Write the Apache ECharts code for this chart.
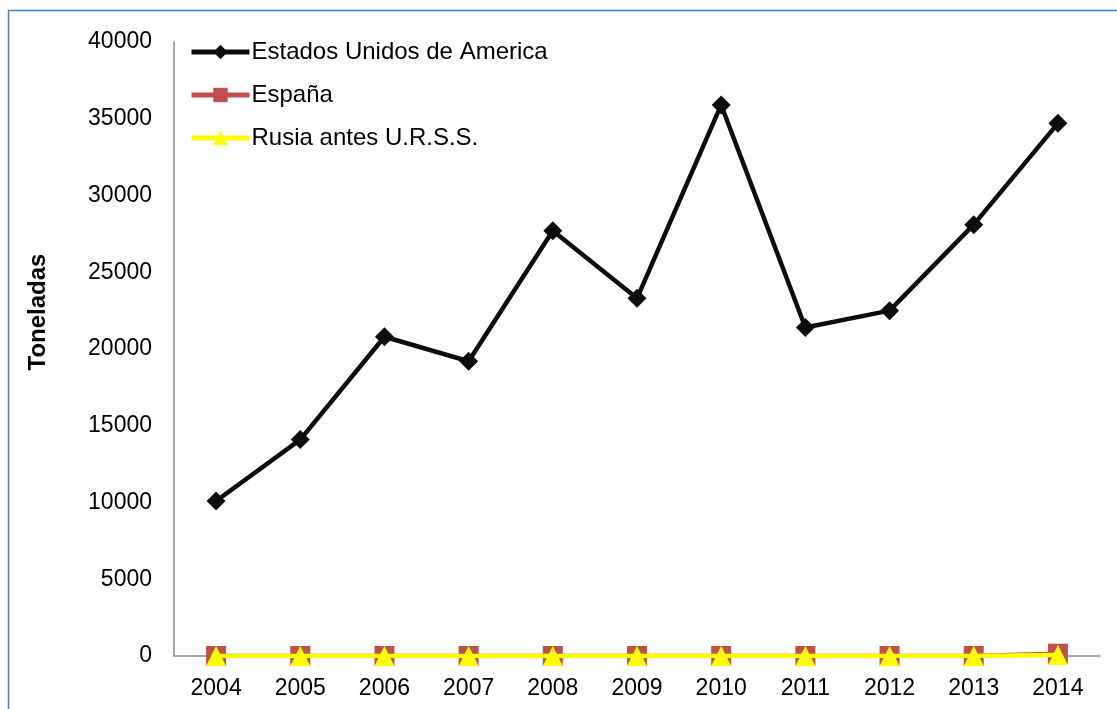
<!DOCTYPE html>
<html>
<head>
<meta charset="utf-8">
<script src="https://cdn.jsdelivr.net/npm/echarts@6/dist/echarts.min.js"></script>
<style>
  html, body { margin: 0; padding: 0; background: #fff; }
  #chart { width: 1117px; height: 709px; }
</style>
</head>
<body>
<div id="chart"></div>
<script>
var years = ['2004', '2005', '2006', '2007', '2008', '2009', '2010', '2011', '2012', '2013', '2014'];
var usa = [10100, 14100, 20800, 19200, 27700, 23300, 35900, 21400, 22500, 28100, 34700];
var espana = [0, 0, 0, 0, 0, 0, 0, 0, 0, 0, 150];
var rusia = [0, 0, 0, 0, 0, 0, 0, 0, 0, 0, 60];

var font = 'Liberation Sans, Arial, sans-serif';

var chart = echarts.init(document.getElementById('chart'));
chart.setOption({
    animation: false,
    textStyle: { fontFamily: font },
    graphic: [
        {
            type: 'rect',
            left: 6, top: 8,
            shape: { width: 1300, height: 900 },
            style: { fill: 'none', stroke: '#4a7ebb', lineWidth: 1.5 },
            silent: true
        },
        {
            // titulo del eje y
            type: 'text',
            x: 38, y: 312,
            rotation: Math.PI / 2,
            style: {
                text: 'Toneladas',
                fontSize: 24, fontWeight: 'bold', fill: '#000', fontFamily: font,
                textAlign: 'center', textVerticalAlign: 'middle'
            },
            silent: true
        }
    ],
    grid: { left: 174, right: 17, top: 42, bottom: 53 },
    legend: {
        orient: 'vertical',
        left: 184, top: 35,
        itemWidth: 58, itemHeight: 18,
        itemGap: 19,
        textStyle: { fontSize: 24, color: '#000', fontFamily: font, padding: [0, 0, 0, -3] },
        lineStyle: { width: 5 },
        data: ['Estados Unidos de America', 'España', 'Rusia antes U.R.S.S.']
    },
    xAxis: {
        type: 'category',
        data: years,
        boundaryGap: true,
        axisLine: { lineStyle: { color: '#888', width: 1.5 } },
        axisTick: { show: false },
        axisLabel: { fontSize: 23, color: '#000', margin: 21, fontFamily: font }
    },
    yAxis: {
        type: 'value',
        min: 0, max: 40000, interval: 5000,
        axisLine: { show: true, lineStyle: { color: '#888', width: 1.5 } },
        axisTick: { show: false },
        splitLine: { show: false },
        axisLabel: {
            fontSize: 23, color: '#000', margin: 22, fontFamily: font,
            formatter: function (v) { return String(v); }
        }
    },
    series: [
        {
            name: 'Estados Unidos de America',
            type: 'line',
            data: usa,
            symbol: 'diamond',
            symbolSize: 19,
            itemStyle: { color: '#0d0d0d' },
            lineStyle: { color: '#0d0d0d', width: 4.5 },
            z: 3
        },
        {
            name: 'España',
            type: 'line',
            data: espana,
            symbol: 'rect',
            symbolSize: 20,
            itemStyle: { color: '#c0504d' },
            lineStyle: { color: '#c0504d', width: 4.5 },
            z: 2
        },
        {
            name: 'Rusia antes U.R.S.S.',
            type: 'line',
            data: rusia,
            symbol: 'triangle',
            symbolSize: 20,
            itemStyle: { color: '#ffff00' },
            lineStyle: { color: '#ffff00', width: 4.5 },
            z: 4
        }
    ]
});
</script>
</body>
</html>
